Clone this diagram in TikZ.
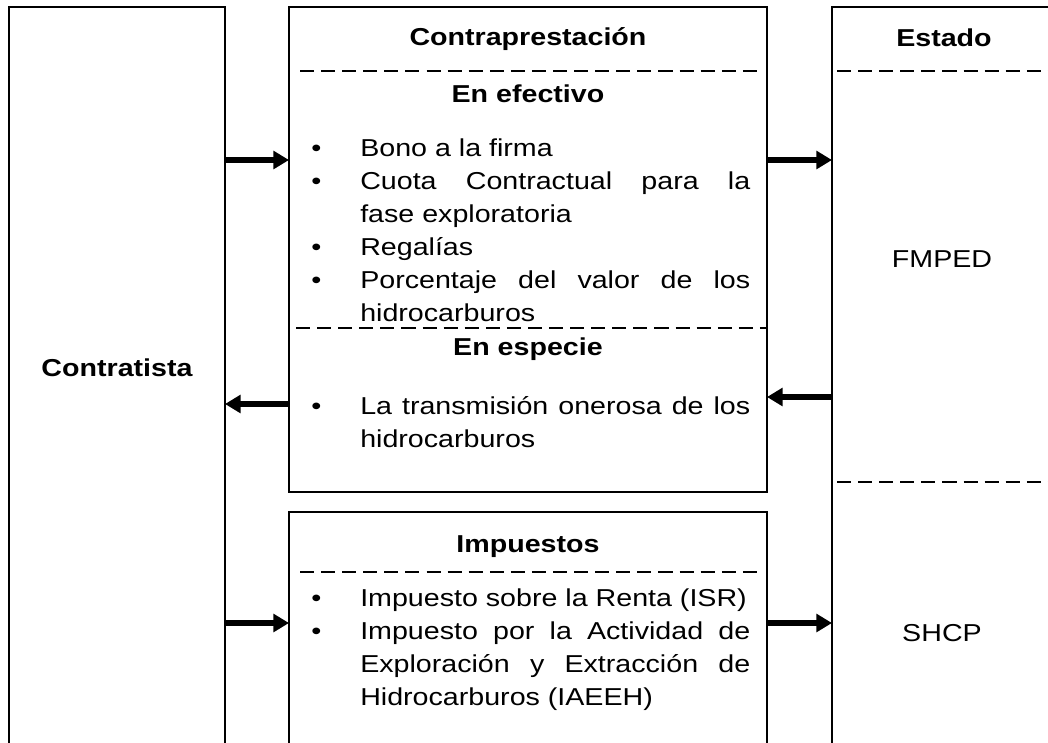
\documentclass[tikz,border=0pt]{standalone}
\usepackage{fontspec}
\setmainfont{Liberation Sans}[FakeStretch=1.17]
\usetikzlibrary{arrows.meta,calc,positioning}
\definecolor{ink}{HTML}{000000}
\newcommand{\bodysize}{\fontsize{17.4pt}{23.5pt}\selectfont}
\newcommand{\entrylist}[1]{\vtop{\hsize=9.75cm\parindent=0pt\tolerance=10000\hbadness=10000 #1\par}}
\newcommand{\entryitem}{\par\noindent\llap{\makebox[1.225cm][l]{\textbullet}}}
\tikzset{
  panel/.style={
    draw=#1,
    line width=1.9pt,
    anchor=north west,
    inner sep=0pt,
    outer sep=0pt
  },
  rule/.style={
    draw=#1,
    line width=1.3pt,
    dash pattern=on 10pt off 5pt
  },
  flow/.style={
    draw=#1,
    line width=3.8pt,
    -{Triangle[length=3.9mm,width=4.4mm]}
  },
  heading/.style={font=\bodysize\bfseries, text=#1, anchor=base, inner sep=0pt},
  entry/.style={font=\bodysize, text=#1, anchor=base west, inner sep=0pt}
}

\begin{document}
\begin{tikzpicture}
  \useasboundingbox (0,0) rectangle (26.2,-18.55);
  \clip (0,0) rectangle (26.2,-18.55);

  % columns, open towards the page edges
  \node[panel=ink, minimum width=5.4cm, minimum height=19cm]
    (contratista) at (0.225,-0.175) {};
  \node[panel=ink, minimum width=11.95cm, minimum height=12.125cm]
    (contra) at (7.225,-0.175) {};
  \node[panel=ink, minimum width=11.95cm, minimum height=7cm]
    (taxes) at (7.225,-12.8) {};
  \node[panel=ink, minimum width=6cm, minimum height=19cm]
    (estado) at (20.8,-0.175) {};

  \draw[rule=ink] ($(contra.north west)+(0.275,-1.6)$) -- ($(contra.north east)+(-0.125,-1.6)$);
  \draw[rule=ink] ($(contra.north west)+(0.175,-8.025)$) -- ($(contra.north east)+(0,-8.025)$);
  \draw[rule=ink] ($(taxes.north west)+(0.275,-1.5)$) -- ($(taxes.north east)+(-0.125,-1.5)$);
  \draw[rule=ink] ($(estado.north west)+(0.125,-1.6)$) -- ($(estado.north east)+(0,-1.6)$);
  \draw[rule=ink] ($(estado.north west)+(0.125,-11.875)$) -- ($(estado.north east)+(0,-11.875)$);

  \node[heading=ink] (contratistaname) at (2.925,-9.4) {Contratista};
  \node[heading=ink] (contraname) at (13.2,-1.125) {Contraprestación};
  \node[heading=ink] (efectivoname) at (13.2,-2.55) {En efectivo};
  \node[heading=ink] (especiename) at (13.2,-8.875) {En especie};
  \node[heading=ink] (taxesname) at (13.2,-13.8) {Impuestos};
  \node[heading=ink] (estadoname) at (23.6,-1.15) {Estado};
  \node[entry=ink, anchor=base] (fmped) at (23.55,-6.675) {FMPED};
  \node[entry=ink, anchor=base] (shcp) at (23.55,-16.025) {SHCP};

  \node[entry=ink] (efectivolist) at (9.0,-3.9) {\entrylist{%
    \entryitem Bono a la firma
    \entryitem Cuota Contractual para la\linebreak fase exploratoria
    \entryitem Regalías
    \entryitem Porcentaje del valor de los\linebreak hidrocarburos}};
  \node[entry=ink] (especielist) at (9.0,-10.35) {\entrylist{%
    \entryitem La transmisión onerosa de los\linebreak hidrocarburos}};
  \node[entry=ink] (taxeslist) at (9.0,-15.15) {\entrylist{%
    \entryitem Impuesto sobre la Renta (ISR)
    \entryitem Impuesto por la Actividad de\linebreak Exploración y Extracción de\linebreak
      Hidrocarburos (IAEEH)}};

  % payments between the parties
  \coordinate (upperrow) at (0,-4.0);
  \coordinate (staterow) at (0,-9.925);
  \coordinate (kindrow) at (0,-10.1);
  \coordinate (lowerrow) at (0,-15.575);
  \draw[flow=ink] (contratista.east |- upperrow) -- (contra.west |- upperrow);
  \draw[flow=ink] (contra.east |- upperrow) -- (estado.west |- upperrow);
  \draw[flow=ink] (estado.west |- staterow) -- (contra.east |- staterow);
  \draw[flow=ink] (contra.west |- kindrow) -- (contratista.east |- kindrow);
  \draw[flow=ink] (contratista.east |- lowerrow) -- (taxes.west |- lowerrow);
  \draw[flow=ink] (taxes.east |- lowerrow) -- (estado.west |- lowerrow);
\end{tikzpicture}
\end{document}
